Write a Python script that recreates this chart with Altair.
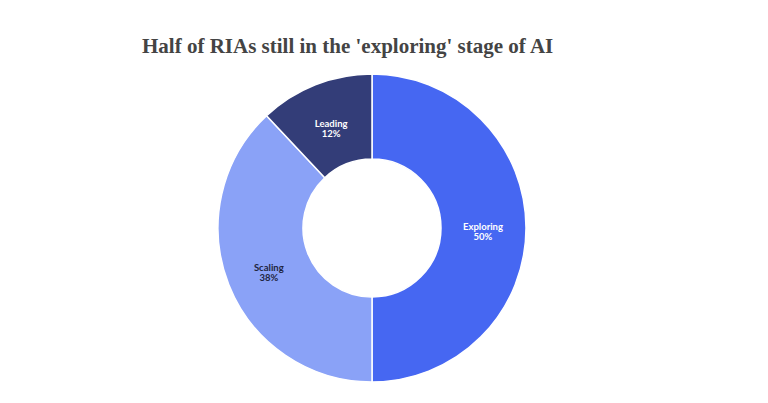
import altair as alt
import pandas as pd

# Dados do gráfico
stages = ["Exploring", "Scaling", "Leading"]
shares = [50, 38, 12]
slice_colors = ["#4667f2", "#8aa2f7", "#333d78"]
label_colors = ["#ffffff", "#1e2440", "#ffffff"]

df = pd.DataFrame({
    "stage": stages,
    "share": shares,
    "order": list(range(len(stages))),
    "label": [f"{s}\n{v}%" for s, v in zip(stages, shares)],
    "label_color": label_colors,
})

cx, cy = 364, 150

base = alt.Chart(df).encode(
    theta=alt.Theta("share:Q", stack=True),
    order=alt.Order("order:Q"),
)

arcs = base.mark_arc(
    outerRadius=154, innerRadius=69, stroke="white", strokeWidth=1.5
).encode(
    x=alt.value(cx),
    y=alt.value(cy),
    color=alt.Color(
        "stage:N",
        scale=alt.Scale(domain=stages, range=slice_colors),
        legend=None,
    ),
)

labels = base.mark_text(
    radius=111, font="Lato", fontSize=9.5, fontWeight="bold",
    lineBreak="\n", lineHeight=10, baseline="middle", align="center"
).encode(
    x=alt.value(cx),
    y=alt.value(cy - 1),
    text="label:N",
    color=alt.Color("label_color:N", scale=None),
)

chart = alt.layer(arcs, labels).properties(
    width=752,
    height=317,
    autosize=alt.AutoSizeParams(type="none"),
    padding={"top": 70, "left": 0, "right": 0, "bottom": 0},
    title=alt.TitleParams(
        "Half of RIAs still in the 'exploring' stage of AI",
        anchor="start", dx=134, offset=14,
        font="Liberation Serif", fontSize=21, fontWeight="bold", color="#444444",
    ),
).configure_view(stroke=None)

chart.save("out.html", embed_options={"renderer": "svg", "actions": False})
